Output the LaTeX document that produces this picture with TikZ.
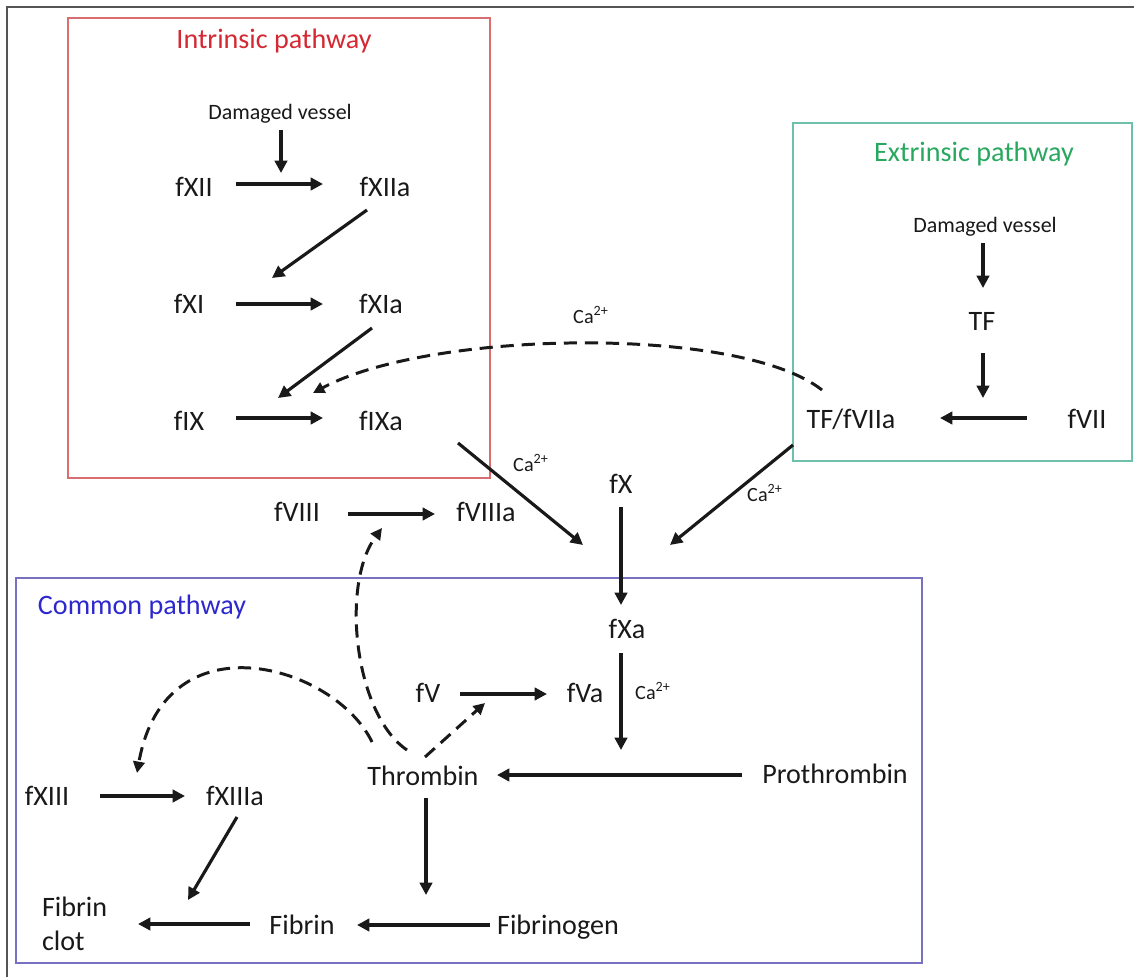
\documentclass[tikz,border=0pt]{standalone}
\usepackage{fontspec}
\setmainfont{Carlito}
\usetikzlibrary{arrows.meta}
\definecolor{redbox}{RGB}{218,110,110}
\definecolor{greenbox}{RGB}{110,192,170}
\definecolor{bluebox}{RGB}{120,112,192}
\definecolor{redtitle}{RGB}{212,40,50}
\definecolor{greentitle}{RGB}{40,168,95}
\definecolor{bluetitle}{RGB}{45,40,205}
\definecolor{framegray}{RGB}{85,85,85}
\definecolor{ink}{RGB}{25,25,25}
\begin{document}
\begin{tikzpicture}[x=0.02cm,y=-0.02cm,
  lbl/.style={inner sep=0pt, outer sep=0pt, text=ink, font=\fontsize{16}{19.3}\selectfont, text height=10pt, text depth=0pt},
  smalllbl/.style={inner sep=0pt, outer sep=0pt, text=ink, font=\fontsize{12.5}{15}\selectfont, text height=8pt, text depth=0pt},
  calbl/.style={inner sep=0pt, outer sep=0pt, text=ink, font=\fontsize{11.5}{14}\selectfont, text height=7.5pt, text depth=0pt},
  titlelbl/.style={inner sep=0pt, outer sep=0pt, font=\fontsize{16}{19.3}\selectfont, text height=10pt, text depth=0pt},
  arr/.style={-{Triangle[length=7pt,width=7pt]}, line width=1.8pt, draw=ink},
  darr/.style={-{Triangle[length=6.5pt,width=6.5pt]}, line width=1.7pt, draw=ink, dash pattern=on 7.5pt off 4.5pt},
  boxline/.style={line width=1pt}]
\useasboundingbox (0,0) rectangle (1134,977);
% screenshot frame
\draw[line width=1.2pt, draw=framegray] (7,977) -- (7,7) -- (1134,7);
% pathway boxes
\draw[boxline, draw=redbox] (68,18) rectangle (490,478);
\draw[boxline, draw=greenbox] (793,123) rectangle (1132,461);
\draw[boxline, draw=bluebox] (16,578) rectangle (922,963);
% titles
\node[titlelbl, text=redtitle] (tI) at (274,40) {Intrinsic pathway};
\node[titlelbl, text=greentitle] (tE) at (974,153) {Extrinsic pathway};
\node[titlelbl, text=bluetitle] (tC) at (142,606) {Common pathway};
% intrinsic
\node[smalllbl] (dvI) at (280,112) {Damaged vessel};
\node[lbl] (fXII) at (194,188) {fXII};
\node[lbl] (fXIIa) at (385,188) {fXIIa};
\node[lbl] (fXI) at (189,305) {fXI};
\node[lbl] (fXIa) at (381,305) {fXIa};
\node[lbl] (fIX) at (189,422) {fIX};
\node[lbl] (fIXa) at (381,422) {fIXa};
% extrinsic
\node[smalllbl] (dvE) at (985,225) {Damaged vessel};
\node[lbl] (TF) at (982,322) {TF};
\node[lbl] (TFVIIa) at (851,420) {TF/fVIIa};
\node[lbl] (fVII) at (1087,420) {fVII};
% middle
\node[calbl] (caTop) at (591,317) {Ca\textsuperscript{2+}};
\node[calbl] (caL) at (531,465) {Ca\textsuperscript{2+}};
\node[calbl] (caR) at (765,495) {Ca\textsuperscript{2+}};
\node[lbl] (fX) at (621,485) {fX};
\node[lbl] (fVIII) at (297,513) {fVIII};
\node[lbl] (fVIIIa) at (486,513) {fVIIIa};
% common
\node[lbl] (fXa) at (627,630) {fXa};
\node[lbl] (fV) at (428,694) {fV};
\node[lbl] (fVa) at (585,694) {fVa};
\node[calbl] (caM) at (653,693) {Ca\textsuperscript{2+}};
\node[lbl] (Thrombin) at (423,777) {Thrombin};
\node[lbl] (Prothrombin) at (835,775) {Prothrombin};
\node[lbl] (fXIII) at (47,797) {fXIII};
\node[lbl] (fXIIIa) at (235,797) {fXIIIa};
\node[inner sep=0pt, outer sep=0pt, text=ink, font=\fontsize{16}{19.3}\selectfont, align=left, anchor=west] (clot) at (42,924) {Fibrin\\clot};
\node[lbl] (Fibrin) at (302,926) {Fibrin};
\node[lbl] (Fibrinogen) at (558,926) {Fibrinogen};
% free ends
\coordinate (j1) at (281,173);
\coordinate (j2) at (983,398);
\coordinate (j3) at (621,750);
\coordinate (j4) at (426,895);
% intrinsic arrows
\draw[arr] ([shift={(1,18)}]dvI.center) -- (j1);
\draw[arr] ([shift={(42,-4)}]fXII.center) -- ([shift={(-62,-4)}]fXIIa.center);
\draw[arr] ([shift={(-18,22)}]fXIIa.center) -- ([shift={(83,-27)}]fXI.center);
\draw[arr] ([shift={(47,-1)}]fXI.center) -- ([shift={(-58,-1)}]fXIa.center);
\draw[arr] ([shift={(-9,23)}]fXIa.center) -- ([shift={(89,-24)}]fIX.center);
\draw[arr] ([shift={(47,-4)}]fIX.center) -- ([shift={(-58,-4)}]fIXa.center);
% extrinsic arrows
\draw[arr] ([shift={(-2,18)}]dvE.center) -- ([shift={(1,-34)}]TF.center);
\draw[arr] ([shift={(1,31)}]TF.center) -- (j2);
\draw[arr] ([shift={(-60,-2)}]fVII.center) -- ([shift={(89,-2)}]TFVIIa.center);
\draw[darr] ([shift={(-29,-30)}]TFVIIa.center) .. controls (740,325) and (430,330) .. ([shift={(-68,-29)}]fIXa.center);
% to fXa
\draw[arr] ([shift={(77,21)}]fIXa.center) -- ([shift={(-44,-85)}]fXa.center);
\draw[arr] ([shift={(-58,25)}]TFVIIa.center) -- ([shift={(43,-85)}]fXa.center);
\draw[arr] ([shift={(0,22)}]fX.center) -- ([shift={(-6,-25)}]fXa.center);
\draw[arr] ([shift={(51,1)}]fVIII.center) -- ([shift={(-51,1)}]fVIIIa.center);
% common arrows
\draw[arr] ([shift={(-6,23)}]fXa.center) -- (j3);
\draw[arr] ([shift={(32,0)}]fV.center) -- ([shift={(-38,0)}]fVa.center);
\draw[arr] ([shift={(-93,0)}]Prothrombin.center) -- ([shift={(74,-2)}]Thrombin.center);
\draw[arr] ([shift={(3,21)}]Thrombin.center) -- (j4);
\draw[arr] ([shift={(-68,-1)}]Fibrinogen.center) -- ([shift={(55,-1)}]Fibrin.center);
\draw[arr] ([shift={(-52,-2)}]Fibrin.center) -- ([shift={(96,0)}]clot.west);
\draw[arr] ([shift={(53,-1)}]fXIII.center) -- ([shift={(-50,-1)}]fXIIIa.center);
\draw[arr] ([shift={(2,20)}]fXIIIa.center) -- ([shift={(146,-24)}]clot.west);
% thrombin feedback
\draw[darr] ([shift={(-16,-27)}]Thrombin.center) .. controls (355,715) and (340,585) .. ([shift={(-104,15)}]fVIIIa.center);
\draw[darr] ([shift={(-51,-35)}]Thrombin.center) .. controls (335,665) and (165,615) .. ([shift={(90,-24)}]fXIII.center);
\draw[darr] ([shift={(2,-20)}]Thrombin.center) -- ([shift={(57,9)}]fV.center);
\end{tikzpicture}
\end{document}
